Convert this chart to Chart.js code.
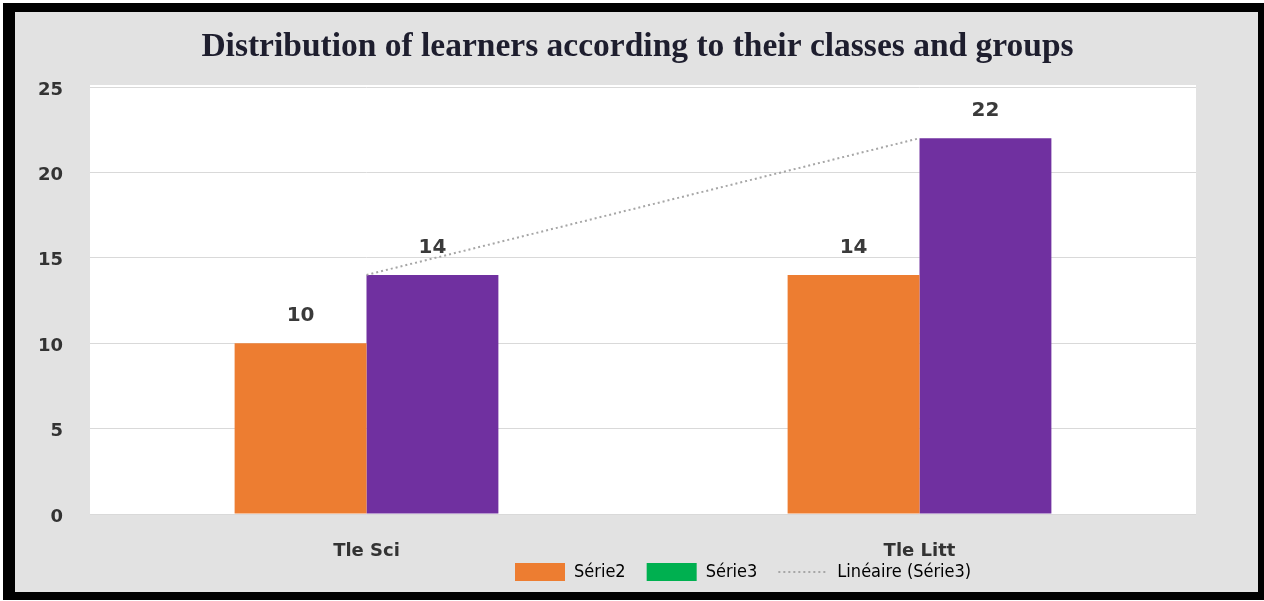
<!DOCTYPE html>
<html>
<head>
<meta charset="utf-8">
<script src="https://cdn.jsdelivr.net/npm/chart.js@4.4.1/dist/chart.umd.min.js"></script>
<style>
  html, body { margin: 0; padding: 0; background: #fff; }
  #frame {
    position: absolute;
    left: 3px;
    top: 3px;
    width: 1243px;
    height: 580px;
    border-style: solid;
    border-color: #000;
    border-width: 9px 6px 8px 12px;
  }
  #chart { display: block; background: #e2e2e2; }
</style>
</head>
<body>
<div id="frame"><canvas id="chart" width="1243" height="580"></canvas></div>
<script>
// values
const categories = ['Tle Sci', 'Tle Litt'];
const serie2 = [10, 14];
const serie3 = [14, 22];
const trendSerie3 = [14, 22];
const yTicks = [0, 5, 10, 15, 20, 25];

const legendNames = ['Série2', 'Série3', 'Linéaire (Série3)'];
const legendColors = ['#ED7D31', '#00B050', '#A6A6A6'];

const tickFont = { family: '"DejaVu Sans", sans-serif', size: 18, weight: 'bold' };

// white plot area behind the bars
const plotBackground = {
  id: 'plotBackground',
  beforeDraw(chart) {
    const { ctx, chartArea } = chart;
    ctx.save();
    ctx.fillStyle = '#ffffff';
    ctx.fillRect(chartArea.left, chartArea.top - 2, chartArea.right - chartArea.left, chartArea.bottom - chartArea.top + 2);
    ctx.restore();
  },
};

// numbers above the bars
const valueLabels = {
  id: 'valueLabels',
  afterDatasetsDraw(chart) {
    const { ctx } = chart;
    ctx.save();
    ctx.font = 'bold 20px "DejaVu Sans", sans-serif';
    ctx.fillStyle = '#3a3a3a';
    ctx.textAlign = 'center';
    ctx.textBaseline = 'middle';
    [0, 1].forEach((di) => {
      chart.getDatasetMeta(di).data.forEach((bar, i) => {
        ctx.fillText(String(chart.data.datasets[di].data[i]), bar.x, bar.y - 27);
      });
    });
    ctx.restore();
  },
};

// legend sits off-centre on the x label row, title a bit right of centre
const blockPlace = {
  id: 'blockPlace',
  afterLayout(chart) {
    const lg = chart.legend;
    const h = lg.bottom - lg.top;
    lg.left = 479;
    lg.right = chart.width;
    lg.top = 530;
    lg.bottom = 530 + h;
    const tb = chart.titleBlock;
    tb.left += 32;
    tb.right += 32;
  },
};

const ctx = document.getElementById('chart').getContext('2d');
const chart = new Chart(ctx, {
  data: {
    labels: categories,
    datasets: [
      {
        type: 'bar',
        label: 'Série2',
        data: serie2,
        backgroundColor: '#ED7D31',
        order: 1,
      },
      {
        type: 'bar',
        label: 'Série3',
        data: serie3,
        backgroundColor: '#7030A0',
        order: 1,
      },
      {
        type: 'line',
        label: 'Linéaire (Série3)',
        data: trendSerie3,
        borderColor: '#A6A6A6',
        borderWidth: 2,
        borderDash: [2, 3],
        pointRadius: 0,
        fill: false,
        order: 0,
      },
    ],
  },
  options: {
    responsive: false,
    animation: false,
    layout: { padding: { left: 0, right: 62, top: 0, bottom: -19 } },
    datasets: {
      bar: { barPercentage: 1, categoryPercentage: 0.477 },
    },
    plugins: {
      title: {
        display: true,
        text: 'Distribution of learners according to their classes and groups',
        color: '#1e1e2e',
        font: { family: '"Liberation Serif", "Times New Roman", serif', size: 33.5, weight: 'bold', lineHeight: 1.2 },
        padding: { top: 15, bottom: 19.8 },
      },
      legend: {
        position: 'bottom',
        align: 'start',
        onClick: () => {},
        labels: {
          usePointStyle: true,
          pointStyleWidth: 50,
          boxHeight: 19,
          padding: 21,
          color: '#1f1f30',
          font: { family: '"Liberation Sans Narrow", "DejaVu Sans Condensed", sans-serif', size: 18 },
          generateLabels: () => legendNames.map((text, i) => ({
            text,
            fillStyle: legendColors[i],
            strokeStyle: legendColors[i],
            lineWidth: i === 2 ? 2 : 0,
            lineDash: i === 2 ? [2, 3] : [],
            pointStyle: i === 2 ? 'line' : 'rect',
            hidden: false,
            datasetIndex: i,
          })),
        },
      },
      tooltip: { enabled: false },
    },
    scales: {
      x: {
        grid: { display: false },
        border: { display: false },
        ticks: { color: '#333333', font: tickFont, padding: 19 },
        afterFit: (s) => { s.height = 48; },
      },
      y: {
        min: 0,
        max: 25,
        afterBuildTicks: (s) => { s.ticks = yTicks.map((v) => ({ value: v })); },
        grid: { color: '#d9d9d9', lineWidth: 1, drawTicks: false },
        border: { display: false },
        ticks: { color: '#333333', font: tickFont, padding: 27, labelOffset: 3 },
        afterFit: (s) => { s.width = 75; },
      },
    },
  },
  plugins: [plotBackground, valueLabels, blockPlace],
});
</script>
</body>
</html>
